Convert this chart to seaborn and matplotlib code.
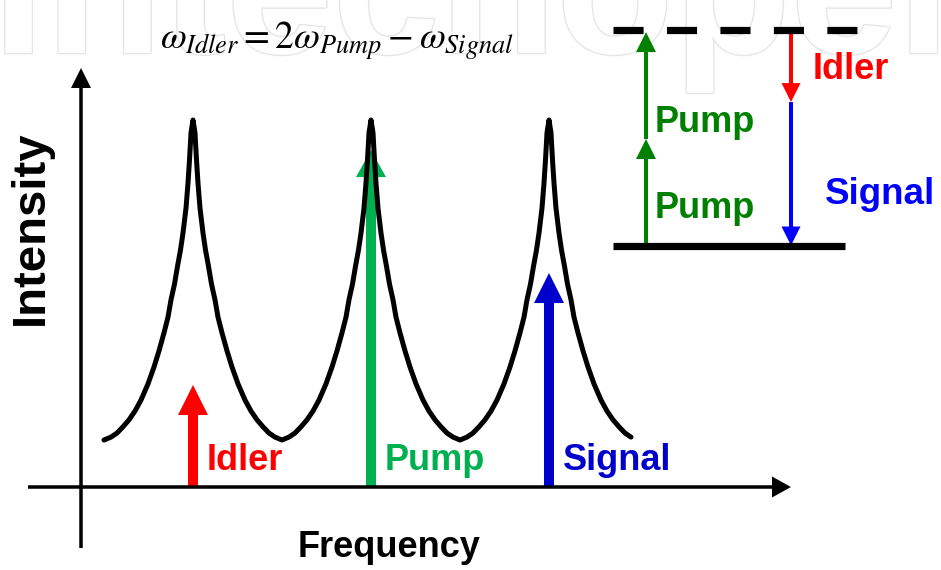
import numpy as np
import pandas as pd
import matplotlib
matplotlib.use("Agg")
import matplotlib.pyplot as plt
import matplotlib.patheffects as pe
import seaborn as sns

# ── Data ──────────────────────────────────────────────────────────────────────

# cavity resonances (arb. frequency units) and one half-lobe of the resonance curve
RESONANCES = [1.0, 2.0, 3.0]
LOBE_OFFSET = [0.0, 0.0112, 0.0197, 0.0281, 0.0393, 0.0562, 0.0702, 0.0876,
               0.1039, 0.1236, 0.1404, 0.1629, 0.1910, 0.2191, 0.2528, 0.2921,
               0.3258, 0.3596, 0.3933, 0.4270, 0.4607, 0.5]
LOBE_INTENSITY = [1.0, 0.965, 0.891, 0.828, 0.760, 0.692, 0.646, 0.600,
                  0.553, 0.510, 0.463, 0.420, 0.371, 0.327, 0.281, 0.237,
                  0.207, 0.183, 0.164, 0.147, 0.136, 0.128]

# the three optical fields sitting on the resonances
FIELD_NAMES = ["Idler", "Pump", "Signal"]
FIELD_FREQ = [1.0, 2.0, 3.0]
FIELD_AMPL = [0.278, 0.918, 0.583]
FIELD_COLORS = ["#FF0000", "#00B050", "#0000CC"]

# energy diagram: ground level, virtual level and photon transitions
LEVEL_ENERGY = [0.0, 1.0]
PUMP_STEPS = [(0.0, 0.493), (0.493, 0.988)]
IDLER_STEP = (0.988, 0.664)
SIGNAL_STEP = (0.664, 0.0)

FORMULA = r"$\omega_{Idler} = 2\omega_{Pump} - \omega_{Signal}$"
WATERMARK = "intechopen"

# ── Style ─────────────────────────────────────────────────────────────────────

sns.set_theme(style="white")
plt.rcParams["font.family"] = ["Liberation Sans", "DejaVu Sans"]
plt.rcParams["mathtext.fontset"] = "stix"
plt.rcParams["text.color"] = "black"

W, H = 941, 570
fig = plt.figure(figsize=(W / 100, H / 100), dpi=100)
fig.patch.set_facecolor("white")

# main spectrum axes (pixels -> frequency/intensity units)
PX_PER_F, PX_PER_I = 178.0, 367.0
ax = fig.add_axes([0, 0, 1, 1])
ax.set_xlim(1 - 193 / PX_PER_F, 1 + (W - 193) / PX_PER_F)
ax.set_ylim((487 - H) / PX_PER_I, 487 / PX_PER_I)
ax.axis("off")

# faint publisher watermark across the top
ax.text(1 + (-8 - 193) / PX_PER_F, (487 - 53) / PX_PER_I, WATERMARK,
        fontsize=138, fontweight="bold", color="white", ha="left", va="baseline",
        zorder=0, path_effects=[pe.Stroke(linewidth=2, foreground="#e6e6e6"), pe.Normal()])

# resonance curve
rows = []
for r in RESONANCES:
    for off, val in zip(LOBE_OFFSET[::-1], LOBE_INTENSITY[::-1]):
        rows.append((r - off, val))
    for off, val in zip(LOBE_OFFSET[1:], LOBE_INTENSITY[1:]):
        rows.append((r + off, val))
curve = pd.DataFrame(rows, columns=["frequency", "intensity"])
curve = curve[curve["frequency"] <= RESONANCES[-1] + 0.465]
sns.lineplot(data=curve, x="frequency", y="intensity", sort=False, estimator=None,
             color="black", lw=3.6, ax=ax, zorder=4)

# field arrows
head_len = [30, 27, 30]
for name, f, a, c, hl in zip(FIELD_NAMES, FIELD_FREQ, FIELD_AMPL, FIELD_COLORS, head_len):
    ax.arrow(f, 0, 0, a, width=10 / PX_PER_F, head_width=30 / PX_PER_F,
             head_length=hl / PX_PER_I, length_includes_head=True,
             color=c, lw=0, zorder=3)
    ax.text(f + 14 / PX_PER_F, 17 / PX_PER_I, name, color=c, fontsize=26,
            fontweight="bold", ha="left", va="baseline", zorder=5)

# axes arrows
ax.arrow(1 + (28 - 193) / PX_PER_F, 0, (791 - 28) / PX_PER_F, 0,
         width=3.5 / PX_PER_I, head_width=21 / PX_PER_I, head_length=19 / PX_PER_F,
         length_includes_head=True, color="black", lw=0, zorder=6)
ax.arrow(1 + (81 - 193) / PX_PER_F, (487 - 548) / PX_PER_I, 0, (548 - 68) / PX_PER_I,
         width=3.5 / PX_PER_F, head_width=20 / PX_PER_F, head_length=20 / PX_PER_I,
         length_includes_head=True, color="black", lw=0, zorder=6)

ax.text(1 + (389 - 193) / PX_PER_F, (487 - 557) / PX_PER_I, "Frequency",
        fontsize=26, fontweight="bold", ha="center", va="baseline")
ax.text(1 + (31 - 193) / PX_PER_F, (487 - 228) / PX_PER_I, "Intensity",
        fontsize=34, fontweight="bold", ha="center", va="center", rotation=90)
ax.text(1 + (337 - 193) / PX_PER_F, (487 - 41) / PX_PER_I, FORMULA,
        fontsize=27, ha="center", va="center", zorder=5)

# ── Energy level diagram ──────────────────────────────────────────────────────

LX, LY = 245.0, 216.0
ax2 = fig.add_axes([600 / W, 1 - 260 / H, 341 / W, 260 / H])
ax2.set_xlim(-13 / LX, 328 / LX)
ax2.set_ylim(-14.5 / LY, 245.5 / LY)
ax2.axis("off")
ax2.patch.set_alpha(0)

ax2.hlines(LEVEL_ENERGY[0], 0, 232 / LX, color="black", lw=5.2, capstyle="butt")
ax2.hlines(LEVEL_ENERGY[1], 0, 1.0, color="black", lw=5.2,
           linestyles=(0, (30 / 7.2, 23.3 / 7.2)), capstyle="butt")

x_pump, x_out = 33 / LX, 178 / LX
for lo, hi in PUMP_STEPS:
    ax2.arrow(x_pump, lo, 0, hi - lo, width=4 / LX, head_width=20 / LX,
              head_length=20 / LY, length_includes_head=True, color="#008000", lw=0)
ax2.arrow(x_out, IDLER_STEP[0], 0, IDLER_STEP[1] - IDLER_STEP[0], width=4 / LX,
          head_width=19 / LX, head_length=19 / LY, length_includes_head=True,
          color="#FF0000", lw=0)
ax2.arrow(x_out, SIGNAL_STEP[0], 0, SIGNAL_STEP[1] - SIGNAL_STEP[0], width=4 / LX,
          head_width=19 / LX, head_length=19 / LY, length_includes_head=True,
          color="#0000FF", lw=0)

ax2.text(200 / LX, 0.771, "Idler", color="#FF0000", fontsize=26, fontweight="bold",
         ha="left", va="baseline")
ax2.text(42 / LX, 0.527, "Pump", color="#008000", fontsize=26, fontweight="bold",
         ha="left", va="baseline")
ax2.text(42 / LX, 0.127, "Pump", color="#008000", fontsize=26, fontweight="bold",
         ha="left", va="baseline")
ax2.text(212 / LX, 0.192, "Signal", color="#0000FF", fontsize=26.5, fontweight="bold",
         ha="left", va="baseline")

fig.savefig("out.png", dpi=100, facecolor="white")
